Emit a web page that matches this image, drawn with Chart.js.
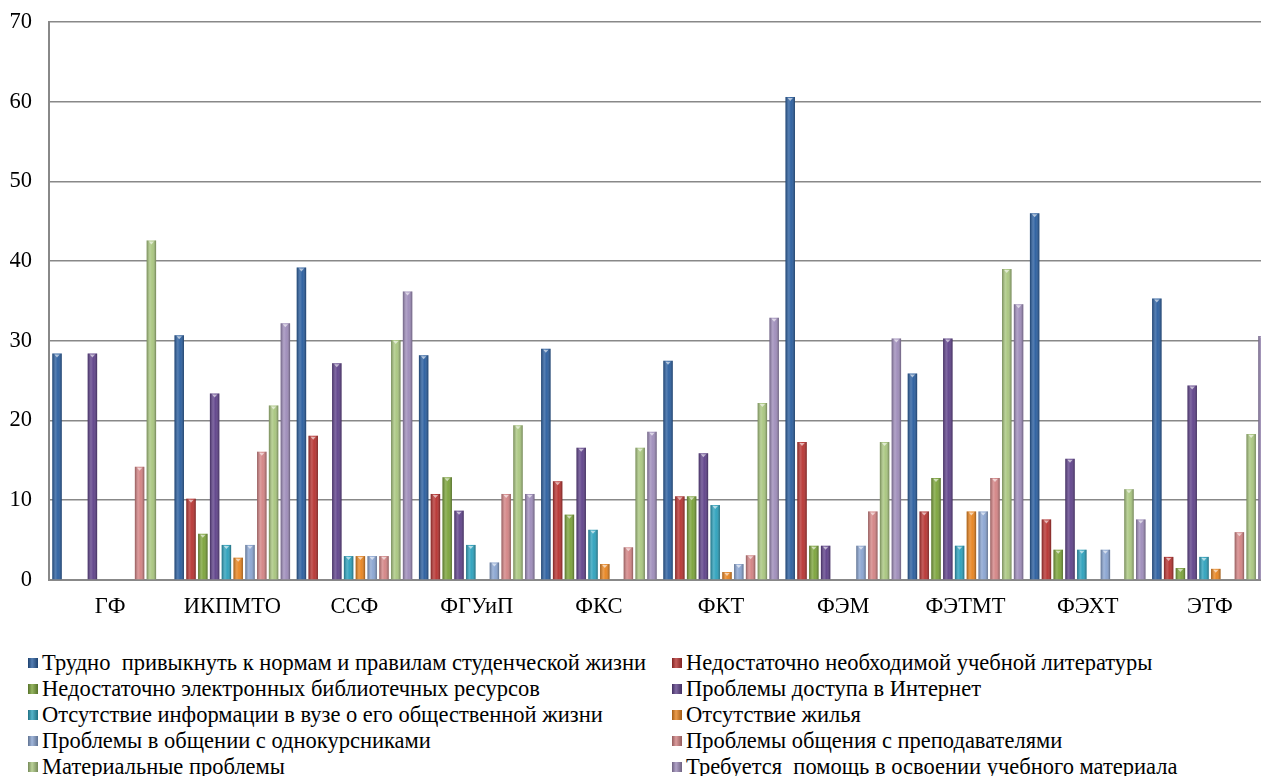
<!DOCTYPE html>
<html>
<head>
<meta charset="utf-8">
<script src="https://cdn.jsdelivr.net/npm/chart.js@4.4.1/dist/chart.umd.min.js"></script>
<style>
  html, body { margin: 0; padding: 0; background: #fff; overflow: hidden; }
  .wrap { position: relative; width: 1261px; height: 776px; overflow: hidden; }
  .chart-box { position: absolute; left: 0; top: 0; width: 1272px; height: 640px; }
  .legend {
    position: absolute; left: 28px; top: 650px;
    display: grid; grid-template-columns: 644px 590px; grid-auto-rows: 26px;
    font-family: "Liberation Serif", "Times New Roman", serif; font-size: 22.5px; color: #000;
  }
  .legend-item { display: flex; align-items: center; white-space: pre; }
  .legend-box { width: 10px; height: 10px; margin-right: 4px; flex: none; }
</style>
</head>
<body>
<div class="wrap">
  <div class="chart-box"><canvas id="barChart"></canvas></div>
  <div class="legend" id="legend"></div>
</div>
<script>
// faculties
const categories = ['ГФ', 'ИКПМТО', 'ССФ', 'ФГУиП', 'ФКС', 'ФКТ', 'ФЭМ', 'ФЭТМТ', 'ФЭХТ', 'ЭТФ'];
const yTicks = [0, 10, 20, 30, 40, 50, 60, 70];

const seriesNames = [
  'Трудно  привыкнуть к нормам и правилам студенческой жизни',
  'Недостаточно необходимой учебной литературы',
  'Недостаточно электронных библиотечных ресурсов',
  'Проблемы доступа в Интернет',
  'Отсутствие информации в вузе о его общественной жизни',
  'Отсутствие жилья',
  'Проблемы в общении с однокурсниками',
  'Проблемы общения с преподавателями',
  'Материальные проблемы',
  'Требуется  помощь в освоении учебного материала'
];

const hardToAdapt    = [28.4, 30.7, 39.2, 28.2, 29.0, 27.5, 60.6, 25.9, 46.0, 35.3];
const lackLiterature = [0, 10.2, 18.1, 10.8, 12.4, 10.5, 17.3, 8.6, 7.6, 2.9];
const lackElectronic = [0, 5.8, 0, 12.9, 8.2, 10.5, 4.3, 12.8, 3.8, 1.5];
const internetAccess = [28.4, 23.4, 27.2, 8.7, 16.6, 15.9, 4.3, 30.3, 15.2, 24.4];
const noInfo         = [0, 4.4, 3.0, 4.4, 6.3, 9.4, 0, 4.3, 3.8, 2.9];
const noHousing      = [0, 2.8, 3.0, 0, 2.0, 1.0, 0, 8.6, 0, 1.4];
const classmates     = [0, 4.4, 3.0, 2.2, 0, 2.0, 4.3, 8.6, 3.8, 0];
const teachers       = [14.2, 16.1, 3.0, 10.8, 4.1, 3.1, 8.6, 12.8, 0, 6.0];
const material       = [42.6, 21.9, 30.1, 19.4, 16.6, 22.2, 17.3, 39.0, 11.4, 18.3];
const studyHelp      = [0, 32.2, 36.2, 10.8, 18.6, 32.9, 30.3, 34.6, 7.6, 30.6];

const seriesValues = [hardToAdapt, lackLiterature, lackElectronic, internetAccess, noInfo,
                      noHousing, classmates, teachers, material, studyHelp];
const colors = ['#2a5e9f', '#b73331', '#7ba33a', '#5f428a', '#2ca1bc',
                '#e8841f', '#89a4d1', '#d38384', '#a9c67f', '#9e8cba'];

const FONT = '"Liberation Serif", "Times New Roman", serif';

// cylinder-ish shading over each bar, like the old office 3D look
const cylinderPlugin = {
  id: 'cylinder',
  afterDatasetsDraw(chart) {
    const ctx = chart.ctx;
    chart.data.datasets.forEach((ds, di) => {
      const meta = chart.getDatasetMeta(di);
      meta.data.forEach((bar, i) => {
        if (!ds.data[i]) return;
        const { x, y, base, width } = bar.getProps(['x', 'y', 'base', 'width'], true);
        const left = x - width / 2;
        const g = ctx.createLinearGradient(left, 0, left + width, 0);
        g.addColorStop(0, 'rgba(0,0,0,0.3)');
        g.addColorStop(0.35, 'rgba(255,255,255,0.2)');
        g.addColorStop(0.6, 'rgba(255,255,255,0.04)');
        g.addColorStop(1, 'rgba(0,0,0,0.34)');
        ctx.save();
        ctx.fillStyle = g;
        ctx.fillRect(left, y, width, base - y);
        ctx.fillStyle = 'rgba(255,255,255,0.6)';
        ctx.beginPath();
        ctx.moveTo(x - width * 0.28, y + 1);
        ctx.lineTo(x + width * 0.28, y + 1);
        ctx.lineTo(x, y + 4);
        ctx.closePath();
        ctx.fill();
        ctx.restore();
      });
    });
  }
};

const chart = new Chart(document.getElementById('barChart'), {
  type: 'bar',
  data: {
    labels: categories,
    datasets: seriesNames.map((name, i) => ({
      label: name,
      data: seriesValues[i],
      backgroundColor: colors[i],
      borderWidth: 0,
      categoryPercentage: 0.965,
      barPercentage: 0.8
    }))
  },
  options: {
    responsive: true,
    maintainAspectRatio: false,
    animation: false,
    layout: { padding: { left: 10, top: 22, right: 1, bottom: 5 } },
    plugins: { legend: { display: false }, tooltip: { enabled: false } },
    scales: {
      x: {
        grid: { display: false, drawTicks: false },
        border: { color: '#888', width: 2 },
        ticks: { color: '#000', font: { family: FONT, size: 22.5 }, padding: 14 }
      },
      y: {
        min: yTicks[0],
        max: yTicks[yTicks.length - 1],
        afterBuildTicks: axis => { axis.ticks = yTicks.map(v => ({ value: v })); },
        afterFit: axis => { axis.width = 39; axis.paddingTop = 0; axis.paddingBottom = 0; },
        grid: { color: '#888', lineWidth: 1.6, drawTicks: false },
        border: { color: '#888', width: 2 },
        ticks: { color: '#000', font: { family: FONT, size: 22.5 }, padding: 17 }
      }
    }
  },
  plugins: [cylinderPlugin]
});

// two-column legend under the chart
const legend = document.getElementById('legend');
legend.innerHTML = chart.data.datasets.map(ds => `
  <div class="legend-item"><span class="legend-box" style="background:linear-gradient(90deg, rgba(0,0,0,0.3), rgba(255,255,255,0.2) 40%, rgba(0,0,0,0.3)), ${ds.backgroundColor}"></span><span>${ds.label}</span></div>
`).join('');
</script>
</body>
</html>
